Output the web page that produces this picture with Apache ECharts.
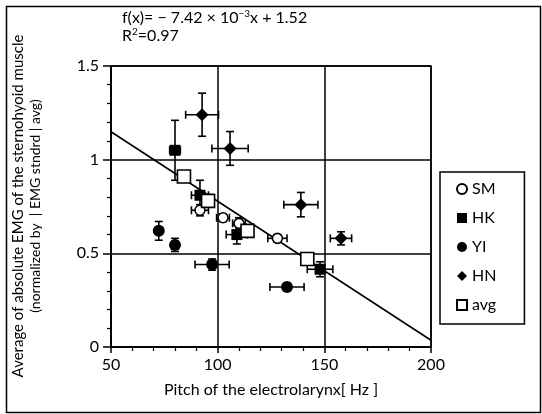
<!DOCTYPE html>
<html>
<head>
<meta charset="utf-8">
<script src="https://cdn.jsdelivr.net/npm/echarts@6/dist/echarts.min.js"></script>
<style>
  html, body { margin: 0; padding: 0; background: #fff; }
  #chart { width: 542px; height: 414px; }
</style>
</head>
<body>
<div id="chart"></div>
<script>
  // axis ticks
  var xTicks = [50, 100, 150, 200];
  var yTicks = [0, 0.5, 1, 1.5];

  // subject SM (open circle)
  var smX = [91.7, 102.5, 110, 128];
  var smY = [0.73, 0.69, 0.66, 0.58];
  var smXErr = [4, 3, 3, 4.5];
  var smYErr = [0.03, 0.02, 0.03, 0.02];

  // subject HK (filled square)
  var hkX = [80, 91.7, 109, 148];
  var hkY = [1.05, 0.81, 0.6, 0.415];
  var hkXErr = [2.5, 4, 5, 6];
  var hkYErr = [0.16, 0.08, 0.05, 0.04];

  // subject YI (filled circle)
  var yiX = [72.4, 80, 97.4, 132.5];
  var yiY = [0.62, 0.545, 0.44, 0.32];
  var yiXErr = [1, 1, 8, 8];
  var yiYErr = [0.05, 0.035, 0.03, 0.02];

  // subject HN (diamond)
  var hnX = [92.7, 105.8, 139, 157.8];
  var hnY = [1.24, 1.06, 0.76, 0.58];
  var hnXErr = [7.7, 8.5, 8, 5];
  var hnYErr = [0.115, 0.09, 0.065, 0.035];

  // average (open square)
  var avgX = [84.2, 95.5, 114, 142];
  var avgY = [0.91, 0.78, 0.62, 0.47];

  // regression f(x) = -7.42e-3 x + 1.52, ends read at x = 50 and 200
  var fitX = [50, 200];
  var fitY = [1.149, 0.036];

  function pairs(xs, ys) {
    var out = [];
    for (var i = 0; i < xs.length; i++) out.push([xs[i], ys[i]]);
    return out;
  }
  function errRows(xs, ys, xe, ye) {
    var out = [];
    for (var i = 0; i < xs.length; i++) out.push([xs[i], ys[i], xe[i], ye[i]]);
    return out;
  }

  function renderErr(params, api) {
    var x = api.value(0), y = api.value(1), xe = api.value(2), ye = api.value(3);
    var l = api.coord([x - xe, y]), r = api.coord([x + xe, y]);
    var t = api.coord([x, y + ye]), b = api.coord([x, y - ye]);
    var cap = 4;
    var st = { stroke: "#000", lineWidth: 1.6 };
    var lines = [
      [l[0], l[1], r[0], r[1]],
      [t[0], t[1], b[0], b[1]],
      [l[0], l[1] - cap, l[0], l[1] + cap],
      [r[0], r[1] - cap, r[0], r[1] + cap],
      [t[0] - cap, t[1], t[0] + cap, t[1]],
      [b[0] - cap, b[1], b[0] + cap, b[1]]
    ];
    return {
      type: "group",
      children: lines.map(function (p) {
        return { type: "line", shape: { x1: p[0], y1: p[1], x2: p[2], y2: p[3] }, style: st };
      })
    };
  }

  var errData = []
    .concat(errRows(smX, smY, smXErr, smYErr))
    .concat(errRows(hkX, hkY, hkXErr, hkYErr))
    .concat(errRows(yiX, yiY, yiXErr, yiYErr))
    .concat(errRows(hnX, hnY, hnXErr, hnYErr));

  var font = "Lato";
  var chart = echarts.init(document.getElementById("chart"));
  var option = {
    animation: false,
    backgroundColor: "#fff",
    textStyle: { fontFamily: font, color: "#000" },
    grid: {
      left: 111, right: 111, top: 66, bottom: 67,
      show: true, borderColor: "#000", borderWidth: 1.5
    },
    xAxis: {
      type: "value", min: xTicks[0], max: xTicks[xTicks.length - 1], interval: 50,
      axisLine: { lineStyle: { color: "#000", width: 1.5 } },
      axisTick: { inside: false, length: 6, lineStyle: { color: "#000", width: 1.5 } },
      minorTick: { show: true, splitNumber: 5, length: 4, lineStyle: { color: "#000", width: 1.2 } },
      splitLine: { show: true, lineStyle: { color: "#000", width: 1.5 } },
      axisLabel: { color: "#000", fontSize: 16, margin: 10, fontFamily: font },
      name: "Pitch of the electrolarynx[ Hz ]",
      nameLocation: "middle", nameGap: 35,
      nameTextStyle: { color: "#000", fontSize: 16, fontFamily: font }
    },
    yAxis: {
      type: "value", min: yTicks[0], max: yTicks[yTicks.length - 1], interval: 0.5,
      axisLine: { lineStyle: { color: "#000", width: 1.5 } },
      axisTick: { inside: false, length: 8, lineStyle: { color: "#000", width: 1.5 } },
      minorTick: { show: true, splitNumber: 5, length: 4, lineStyle: { color: "#000", width: 1.2 } },
      splitLine: { show: true, lineStyle: { color: "#000", width: 1.5 } },
      axisLabel: { color: "#000", fontSize: 16, margin: 12, fontFamily: font }
    },
    legend: {
      orient: "vertical", left: 440, top: 172,
      padding: [9, 28, 11, 16], itemGap: 13,
      itemWidth: 10, itemHeight: 10,
      borderColor: "#000", borderWidth: 1.5, backgroundColor: "#fff",
      textStyle: { color: "#000", fontSize: 16, fontFamily: font },
      data: ["SM", "HK", "YI", "HN", "avg"]
    },
    graphic: [
      { type: "rect", left: 4, top: 4, silent: true, z: -1,
        shape: { width: 534, height: 406 },
        style: { fill: "none", stroke: "#000", lineWidth: 1.5 } },
      { type: "text", left: 122, top: 9,
        style: {
          text: "f(x)= \u2212 7.42 \u00d7 10{s|\u22123}x + 1.52",
          fontFamily: font, fontSize: 16, fill: "#000",
          rich: { s: { fontSize: 10, padding: [0, 0, 8, 0], fontFamily: font } }
        } },
      { type: "text", left: 122, top: 27,
        style: {
          text: "R{s|2}=0.97",
          fontFamily: font, fontSize: 16, fill: "#000",
          rich: { s: { fontSize: 10, padding: [0, 0, 8, 0], fontFamily: font } }
        } },
      { type: "text", x: 18, y: 206, rotation: Math.PI / 2,
        style: {
          text: "Average of absolute EMG of the sternohyoid muscle",
          fontFamily: font, fontSize: 15, fill: "#000", align: "center", verticalAlign: "middle"
        } },
      { type: "text", x: 35, y: 206, rotation: Math.PI / 2,
        style: {
          text: "(normalized by  | EMG stndrd | avg)",
          fontFamily: font, fontSize: 14, fill: "#000", align: "center", verticalAlign: "middle"
        } }
    ],
    series: [
      {
        type: "line", data: pairs(fitX, fitY), showSymbol: false, symbol: "none",
        lineStyle: { color: "#000", width: 1.6 }, z: 2, silent: true
      },
      {
        type: "custom", data: errData, renderItem: renderErr, z: 3, silent: true,
        encode: { x: 0, y: 1 }
      },
      {
        name: "SM", type: "scatter", data: pairs(smX, smY), symbol: "circle", symbolSize: 10, z: 5,
        itemStyle: { color: "#fff", borderColor: "#000", borderWidth: 1.6, opacity: 1 }
      },
      {
        name: "HK", type: "scatter", data: pairs(hkX, hkY), symbol: "rect", symbolSize: 11, z: 5,
        itemStyle: { color: "#000", opacity: 1 }
      },
      {
        name: "YI", type: "scatter", data: pairs(yiX, yiY), symbol: "circle", symbolSize: 12, z: 5,
        itemStyle: { color: "#000", opacity: 1 }
      },
      {
        name: "HN", type: "scatter", data: pairs(hnX, hnY), symbol: "diamond", symbolSize: 13, z: 5,
        itemStyle: { color: "#000", opacity: 1 }
      },
      {
        name: "avg", type: "scatter", data: pairs(avgX, avgY), symbol: "rect", symbolSize: 13, z: 6,
        itemStyle: { color: "#fff", borderColor: "#000", borderWidth: 1.6, opacity: 1 }
      }
    ]
  };
  chart.setOption(option);
</script>
</body>
</html>
